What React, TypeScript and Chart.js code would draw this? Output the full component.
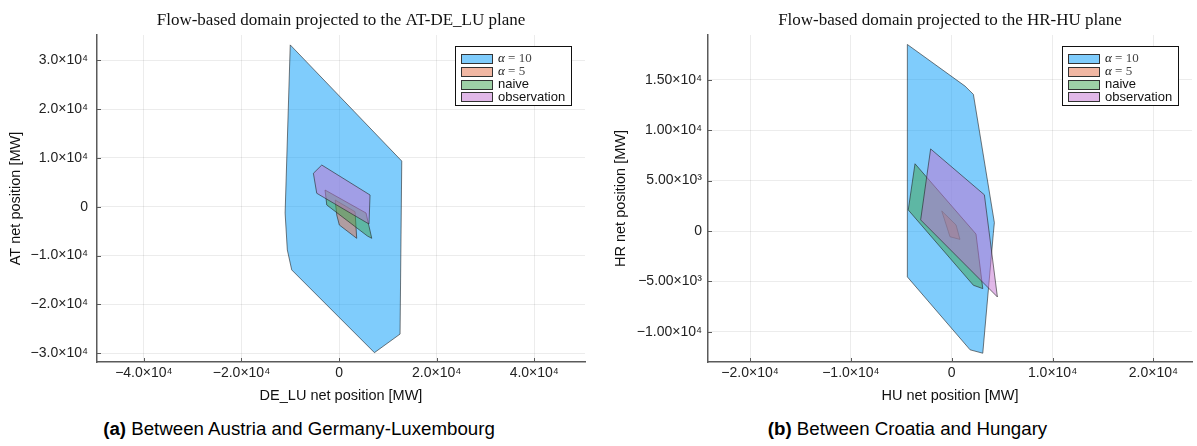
import React, { useEffect, useRef } from "react";
import { Chart, registerables } from "chart.js";

Chart.register(...registerables);

// ---------- data ----------
const seriesLabels = ["α = 10", "α = 5", "naive", "observation"];
const seriesFill = [
  "rgba(0,154,250,0.5)",
  "rgba(227,111,71,0.5)",
  "rgba(62,164,78,0.5)",
  "rgba(195,113,210,0.5)",
];

// AT – DE_LU plane: [DE_LU net position, AT net position]
const atAlpha10 = [[-10000, 33150], [12850, 9350], [12500, -26100], [7250, -29900], [-9700, -12950], [-10600, -8850], [-11050, -1300]];
const atAlpha5 = [[-800, 1370], [3280, -1030], [3620, -6480], [60, -3750], [-470, -1700]];
const atNaive = [[-2870, 3420], [5530, -1290], [6700, -6480], [5800, -6000], [-2520, 350]];
const atObservation = [[-5260, 6840], [-3540, 8540], [6350, 2400], [6140, -3550], [-4570, 2750]];

// HR – HU plane: [HU net position, HR net position]
const hrAlpha10 = [[-4400, 18500], [1320, 14370], [2150, 13550], [4230, 830], [4130, -230], [3080, -12120], [1820, -11780], [-4400, -4550]];
const hrAlpha5 = [[-990, 1990], [430, 600], [820, -830], [-170, -570]];
const hrNaive = [[-3640, 6670], [2410, -300], [3080, -5710], [2150, -5380], [-4310, 2090]];
const hrObservation = [[-2090, 8140], [3240, 3590], [4530, -6540], [-3080, 1100]];

// ticks
const atXTicks = [-40000, -20000, 0, 20000, 40000];
const atXTickLabels = ["−4.0×10⁴", "−2.0×10⁴", "0", "2.0×10⁴", "4.0×10⁴"];
const atYTicks = [-30000, -20000, -10000, 0, 10000, 20000, 30000];
const atYTickLabels = ["−3.0×10⁴", "−2.0×10⁴", "−1.0×10⁴", "0", "1.0×10⁴", "2.0×10⁴", "3.0×10⁴"];
const hrXTicks = [-20000, -10000, 0, 10000, 20000];
const hrXTickLabels = ["−2.0×10⁴", "−1.0×10⁴", "0", "1.0×10⁴", "2.0×10⁴"];
const hrYTicks = [-10000, -5000, 0, 5000, 10000, 15000];
const hrYTickLabels = ["−1.00×10⁴", "−5.00×10³", "0", "5.00×10³", "1.00×10⁴", "1.50×10⁴"];

// ---------- styling ----------
const SANS = '"Liberation Sans", Arial, Helvetica, sans-serif';
const SERIF = '"Liberation Serif", "Times New Roman", serif';
const axisColor = "#5a5a5a";
const gridColor = "rgba(0,0,0,0.075)";

const titlePlugin = {
  id: "plotTitle",
  afterDraw(chart: any) {
    const text = chart.options.plugins.plotTitle?.text;
    if (!text) return;
    const { ctx, chartArea } = chart;
    ctx.save();
    ctx.font = `17px ${SERIF}`;
    ctx.fillStyle = "#111";
    ctx.textAlign = "center";
    ctx.textBaseline = "alphabetic";
    ctx.fillText(text, (chartArea.left + chartArea.right) / 2, 25);
    ctx.restore();
  },
};

const tickMarkPlugin = {
  id: "tickMarks",
  afterDatasetsDraw(chart: any) {
    const { ctx, chartArea, scales } = chart;
    ctx.save();
    ctx.strokeStyle = axisColor;
    ctx.lineWidth = 1;
    scales.x.ticks.forEach((t: any) => {
      const px = Math.round(scales.x.getPixelForValue(t.value)) + 0.5;
      ctx.beginPath();
      ctx.moveTo(px, chartArea.bottom);
      ctx.lineTo(px, chartArea.bottom - 4);
      ctx.stroke();
    });
    scales.y.ticks.forEach((t: any) => {
      const py = Math.round(scales.y.getPixelForValue(t.value)) + 0.5;
      ctx.beginPath();
      ctx.moveTo(chartArea.left, py);
      ctx.lineTo(chartArea.left + 4, py);
      ctx.stroke();
    });
    ctx.restore();
  },
};

const legendPlugin = {
  id: "boxLegend",
  afterDraw(chart: any) {
    const { ctx, chartArea } = chart;
    const W = 117;
    const H = 60;
    const x0 = Math.round(chartArea.right - 13 - W);
    const y0 = Math.round(chartArea.top + 11);
    ctx.save();
    ctx.fillStyle = "#fff";
    ctx.fillRect(x0, y0, W, H);
    ctx.strokeStyle = "#111";
    ctx.lineWidth = 1;
    ctx.strokeRect(x0 + 0.5, y0 + 0.5, W - 1, H - 1);
    chart.data.datasets.forEach((ds: any, i: number) => {
      const cy = y0 + 13 + i * 12.8;
      const sx = x0 + 6;
      const sy = Math.round(cy - 5);
      ctx.fillStyle = "#fff";
      ctx.fillRect(sx, sy, 32, 10);
      ctx.fillStyle = ds.backgroundColor;
      ctx.fillRect(sx, sy, 32, 10);
      ctx.strokeStyle = "#333";
      ctx.strokeRect(sx + 0.5, sy + 0.5, 31, 9);
      const tx = sx + 37;
      const label: string = ds.label;
      ctx.textBaseline = "middle";
      ctx.textAlign = "left";
      ctx.fillStyle = "#111";
      if (label.startsWith("α")) {
        ctx.font = `italic 13px ${SERIF}`;
        ctx.fillText("α", tx, cy);
        const w = ctx.measureText("α").width;
        ctx.font = `13px ${SERIF}`;
        ctx.fillStyle = "#444";
        ctx.fillText(label.slice(1), tx + w, cy);
      } else {
        ctx.font = `13px ${SANS}`;
        ctx.fillText(label, tx, cy);
      }
    });
    ctx.restore();
  },
};

type PanelSpec = {
  title: string;
  xLabel: string;
  yLabel: string;
  polygons: number[][][];
  xTicks: number[];
  xTickLabels: string[];
  yTicks: number[];
  yTickLabels: string[];
  xMin: number;
  xMax: number;
  yMin: number;
  yMax: number;
  yAxisWidth: number;
  padRight: number;
  yTitlePad: number;
  yTickPad: number;
};

function buildConfig(spec: PanelSpec): any {
  const datasets = spec.polygons.map((poly, i) => ({
    label: seriesLabels[i],
    data: [...poly, poly[0]].map(([x, y]) => ({ x, y })),
    showLine: true,
    fill: "shape",
    backgroundColor: seriesFill[i],
    borderColor: "rgba(35,35,35,0.6)",
    borderWidth: 1,
    pointRadius: 0,
    pointHoverRadius: 0,
    tension: 0,
    order: spec.polygons.length - i,
  }));
  return {
    type: "scatter",
    data: { datasets },
    plugins: [titlePlugin, tickMarkPlugin, legendPlugin],
    options: {
      animation: false,
      responsive: false,
      devicePixelRatio: 1,
      events: [],
      layout: { padding: { top: 35, right: spec.padRight, bottom: 0, left: 0 } },
      plugins: {
        legend: { display: false },
        tooltip: { enabled: false },
        title: { display: false },
        plotTitle: { text: spec.title },
      },
      scales: {
        x: {
          type: "linear",
          position: "bottom",
          min: spec.xMin,
          max: spec.xMax,
          afterBuildTicks: (axis: any) => {
            axis.ticks = spec.xTicks.map((v) => ({ value: v }));
          },
          afterFit: (axis: any) => {
            axis.height = 48;
          },
          ticks: {
            autoSkip: false,
            maxRotation: 0,
            padding: 3,
            color: "#222",
            font: { family: SANS, size: 14 },
            callback: (v: number) => spec.xTickLabels[spec.xTicks.indexOf(v)] ?? "",
          },
          grid: { color: gridColor, lineWidth: 1, drawTicks: false },
          border: { display: true, color: axisColor, width: 1.5 },
          title: {
            display: true,
            text: spec.xLabel,
            color: "#111",
            font: { family: SANS, size: 14.5 },
            padding: { top: 0, bottom: 5.3 },
          },
        },
        y: {
          type: "linear",
          position: "left",
          min: spec.yMin,
          max: spec.yMax,
          afterBuildTicks: (axis: any) => {
            axis.ticks = spec.yTicks.map((v) => ({ value: v }));
          },
          afterFit: (axis: any) => {
            axis.width = spec.yAxisWidth;
          },
          ticks: {
            autoSkip: false,
            padding: spec.yTickPad,
            color: "#222",
            font: { family: SANS, size: 14 },
            callback: (v: number) => spec.yTickLabels[spec.yTicks.indexOf(v)] ?? "",
          },
          grid: { color: gridColor, lineWidth: 1, drawTicks: false },
          border: { display: true, color: axisColor, width: 1.5 },
          title: {
            display: true,
            text: spec.yLabel,
            color: "#111",
            font: { family: SANS, size: 14.5 },
            padding: { top: spec.yTitlePad, bottom: 0 },
          },
        },
      },
    },
  };
}

const atSpec: PanelSpec = {
  title: "Flow-based domain projected to the AT-DE_LU plane",
  xLabel: "DE_LU net position [MW]",
  yLabel: "AT net position [MW]",
  polygons: [atAlpha10, atAlpha5, atNaive, atObservation],
  xTicks: atXTicks,
  xTickLabels: atXTickLabels,
  yTicks: atYTicks,
  yTickLabels: atYTickLabels,
  xMin: -49600,
  xMax: 50400,
  yMin: -31820,
  yMax: 35180,
  yAxisWidth: 97,
  padRight: 15,
  yTitlePad: 7.3,
  yTickPad: 9,
};

const hrSpec: PanelSpec = {
  title: "Flow-based domain projected to the HR-HU plane",
  xLabel: "HU net position [MW]",
  yLabel: "HR net position [MW]",
  polygons: [hrAlpha10, hrAlpha5, hrNaive, hrObservation],
  xTicks: hrXTicks,
  xTickLabels: hrXTickLabels,
  yTicks: hrYTicks,
  yTickLabels: hrYTickLabels,
  xMin: -24170,
  xMax: 23830,
  yMin: -12990,
  yMax: 19440,
  yAxisWidth: 108,
  padRight: 5,
  yTitlePad: 12.3,
  yTickPad: 6,
};

function Panel({ spec, left, width }: { spec: PanelSpec; left: number; width: number }) {
  const ref = useRef<HTMLCanvasElement | null>(null);
  useEffect(() => {
    if (!ref.current) return;
    const chart = new Chart(ref.current, buildConfig(spec));
    return () => chart.destroy();
  }, [spec]);
  return (
    <canvas
      ref={ref}
      width={width}
      height={410}
      style={{ position: "absolute", left, top: 0, width, height: 410 }}
    />
  );
}

const captionStyle: React.CSSProperties = {
  position: "absolute",
  top: 419,
  textAlign: "center",
  font: `18.7px ${SANS}`,
  lineHeight: "20px",
  color: "#000",
  whiteSpace: "nowrap",
};

export default function App() {
  return (
    <div
      style={{
        position: "absolute",
        left: 0,
        top: 0,
        width: 1197,
        height: 446,
        background: "#fff",
        overflow: "hidden",
      }}
    >
      <Panel spec={atSpec} left={0} width={600} />
      <Panel spec={hrSpec} left={600} width={597} />
      <div style={{ ...captionStyle, left: 0, width: 598 }}>
        <b>(a)</b> Between Austria and Germany-Luxembourg
      </div>
      <div style={{ ...captionStyle, left: 610, width: 595 }}>
        <b>(b)</b> Between Croatia and Hungary
      </div>
    </div>
  );
}
